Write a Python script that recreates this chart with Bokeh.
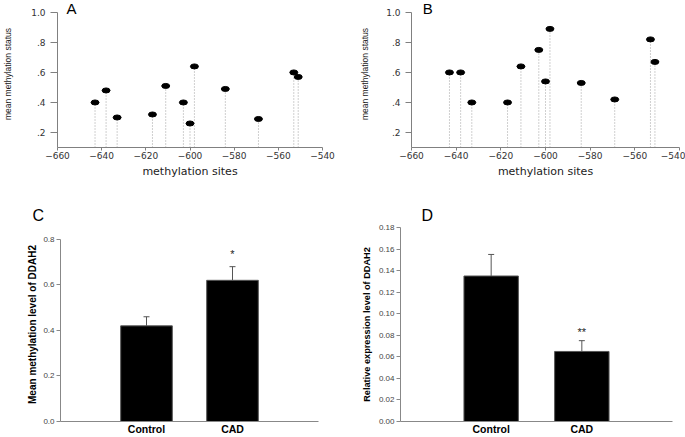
from bokeh.plotting import figure
from bokeh.layouts import column, row
from bokeh.models import (ColumnDataSource, Range1d, Label, Whisker,
                          TeeHead, NumeralTickFormatter)
from bokeh.core.properties import value
from bokeh.embed import file_html
from bokeh.resources import INLINE

# ---------------- data ----------------
sites = [-643, -638, -633, -617, -611, -603, -600, -598, -584, -569, -553, -551]
status_a = [0.40, 0.48, 0.30, 0.32, 0.51, 0.40, 0.26, 0.64, 0.49, 0.29, 0.60, 0.57]
status_b = [0.60, 0.60, 0.40, 0.40, 0.64, 0.75, 0.54, 0.89, 0.53, 0.42, 0.82, 0.67]
site_ticks = [-660, -640, -620, -600, -580, -560, -540]
status_ticks = [0.2, 0.4, 0.6, 0.8, 1.0]
status_tick_labels = [".2", ".4", ".6", ".8", "1.0"]

groups = ["Control", "CAD"]
methylation_mean = [0.42, 0.62]
methylation_err = [0.04, 0.06]
methylation_sig = ["", "*"]
methylation_ticks = [0.0, 0.2, 0.4, 0.6, 0.8]

expression_mean = [0.135, 0.065]
expression_err = [0.020, 0.010]
expression_sig = ["", "**"]
expression_ticks = [0.00, 0.02, 0.04, 0.06, 0.08, 0.10, 0.12, 0.14, 0.16, 0.18]

group_pos = list(range(1, len(groups) + 1))


def lollipop(vals, letter, width, left, right, title_standoff, tick_out, letter_x):
    # frame reaches the top of the figure so the panel letter stays inside it;
    # the y axis itself is bounded to the 0.1 .. 1.0 interval
    p = figure(width=width, height=180, x_range=Range1d(site_ticks[0], site_ticks[-1]),
               y_range=Range1d(0.1, 1.079), output_backend="svg", toolbar_location=None,
               min_border_left=left, min_border_right=right, min_border_top=0,
               min_border_bottom=32)
    p.grid.visible = False
    p.outline_line_color = None
    p.segment(x0=sites, y0=[0.1] * len(sites), x1=sites, y1=vals,
              line_color="#a0a0a0", line_dash="1 2", line_width=1)
    p.ellipse(x=sites, y=vals, width=8, height=5, width_units="screen",
              height_units="screen", fill_color="black", line_color="black")
    for ax in (p.xaxis[0], p.yaxis[0]):
        ax.axis_line_color = "#808080"
        ax.major_tick_line_color = "#808080"
        ax.major_tick_in = 0
        ax.minor_tick_line_color = None
        ax.major_label_text_font = "DejaVu Sans"
        ax.major_label_text_font_size = "9px"
        ax.major_label_text_color = "#333333"
    p.xaxis.ticker = site_ticks
    p.xaxis.major_tick_out = 3
    p.xaxis.major_label_standoff = 1
    p.xaxis.axis_label = "methylation sites"
    p.xaxis.axis_label_text_font = "DejaVu Sans"
    p.xaxis.axis_label_text_font_size = "11px"
    p.xaxis.axis_label_text_font_style = "normal"
    p.xaxis.axis_label_text_color = "#222222"
    p.xaxis.axis_label_standoff = 3
    p.yaxis.ticker = status_ticks
    p.yaxis.bounds = (0.1, status_ticks[-1])
    p.yaxis.major_label_overrides = dict(zip(status_ticks, status_tick_labels))
    p.yaxis.major_tick_out = tick_out
    p.yaxis.major_label_standoff = 5
    p.yaxis.axis_label = "mean methylation status"
    p.yaxis.axis_label_text_font = "Liberation Sans"
    p.yaxis.axis_label_text_font_size = "8.5px"
    p.yaxis.axis_label_text_font_style = "normal"
    p.yaxis.axis_label_text_color = "#222222"
    p.yaxis.axis_label_standoff = title_standoff
    p.add_layout(Label(x=letter_x, y=1.0, y_offset=4, text=letter,
                       text_font="Liberation Sans", text_font_size="15px",
                       text_baseline="middle", text_align="center", text_color="black"))
    return p


def bars(vals, errs, sig, ticks, y_end, fmt, ylabel, letter, width, left, right,
         title_size, sig_offset, letter_offset, title_standoff):
    ups = [v + e for v, e in zip(vals, errs)]
    src = ColumnDataSource(dict(x=group_pos, v=vals, up=ups, s=sig))
    p = figure(width=width, height=257, x_range=Range1d(0, len(groups) + 1),
               y_range=Range1d(0, y_end), output_backend="svg",
               toolbar_location=None, min_border_left=left, min_border_right=right,
               min_border_top=47, min_border_bottom=14)
    p.title.text = letter
    p.title.text_font = "Liberation Sans"
    p.title.text_font_size = "16px"
    p.title.text_font_style = "normal"
    p.title.text_color = "black"
    p.title.align = "left"
    p.title.offset = letter_offset
    p.title.standoff = 8
    p.grid.visible = False
    p.outline_line_color = None
    p.vbar(x="x", top="v", width=0.6, source=src, fill_color="black",
           line_color="#555555", line_width=1)
    p.add_layout(Whisker(source=src, base="x", lower="v", upper="up", lower_head=None,
                         upper_head=TeeHead(size=6, line_color="#555555", line_width=1),
                         line_color="#555555", line_width=1, level="glyph"))
    p.text(x="x", y="up", text="s", source=src, y_offset=sig_offset,
           text_align="center", text_baseline="bottom",
           text_font=value("Liberation Sans"), text_font_size="11px", text_color="#222222")
    for ax in (p.xaxis[0], p.yaxis[0]):
        ax.axis_line_color = "#888888"
        ax.minor_tick_line_color = None
    p.xaxis.ticker = group_pos
    p.xaxis.major_label_overrides = dict(zip(group_pos, groups))
    p.xaxis.major_tick_line_color = None
    p.xaxis.major_tick_out = 0
    p.xaxis.major_tick_in = 0
    p.xaxis.major_label_standoff = 1
    p.xaxis.major_label_text_font = "Liberation Sans"
    p.xaxis.major_label_text_font_style = "bold"
    p.xaxis.major_label_text_font_size = "10.5px"
    p.xaxis.major_label_text_color = "black"
    p.yaxis.ticker = ticks
    p.yaxis.bounds = (ticks[0], ticks[-1])
    p.yaxis.formatter = NumeralTickFormatter(format=fmt)
    p.yaxis.major_tick_out = 4
    p.yaxis.major_tick_in = 0
    p.yaxis.major_tick_line_color = "#888888"
    p.yaxis.major_label_standoff = 2
    p.yaxis.major_label_text_font = "Liberation Sans"
    p.yaxis.major_label_text_font_size = "8px"
    p.yaxis.major_label_text_color = "#444444"
    p.yaxis.axis_label = ylabel
    p.yaxis.axis_label_text_font = "Liberation Sans"
    p.yaxis.axis_label_text_font_style = "bold"
    p.yaxis.axis_label_text_font_size = title_size
    p.yaxis.axis_label_text_color = "black"
    p.yaxis.axis_label_standoff = title_standoff
    return p


pa = lollipop(status_a, "A", 340, 55, 18, 15, 7, -653.7)
pb = lollipop(status_b, "B", 345, 71, 6, 13, 6, -652.7)
pc = bars(methylation_mean, methylation_err, methylation_sig, methylation_ticks, 0.852,
          "0.0", "Mean methylation level of DDAH2", "C", 340, 60, 22, "10px", -7, -28, 2)
pd = bars(expression_mean, expression_err, expression_sig, expression_ticks, 0.18,
          "0.00", "Relative expression level of DDAH2", "D", 345, 60, 13, "9.2px", -3, 21,
          4)

layout = column(row(pa, pb), row(pc, pd))
open("out.html", "w").write(file_html(layout, INLINE))
